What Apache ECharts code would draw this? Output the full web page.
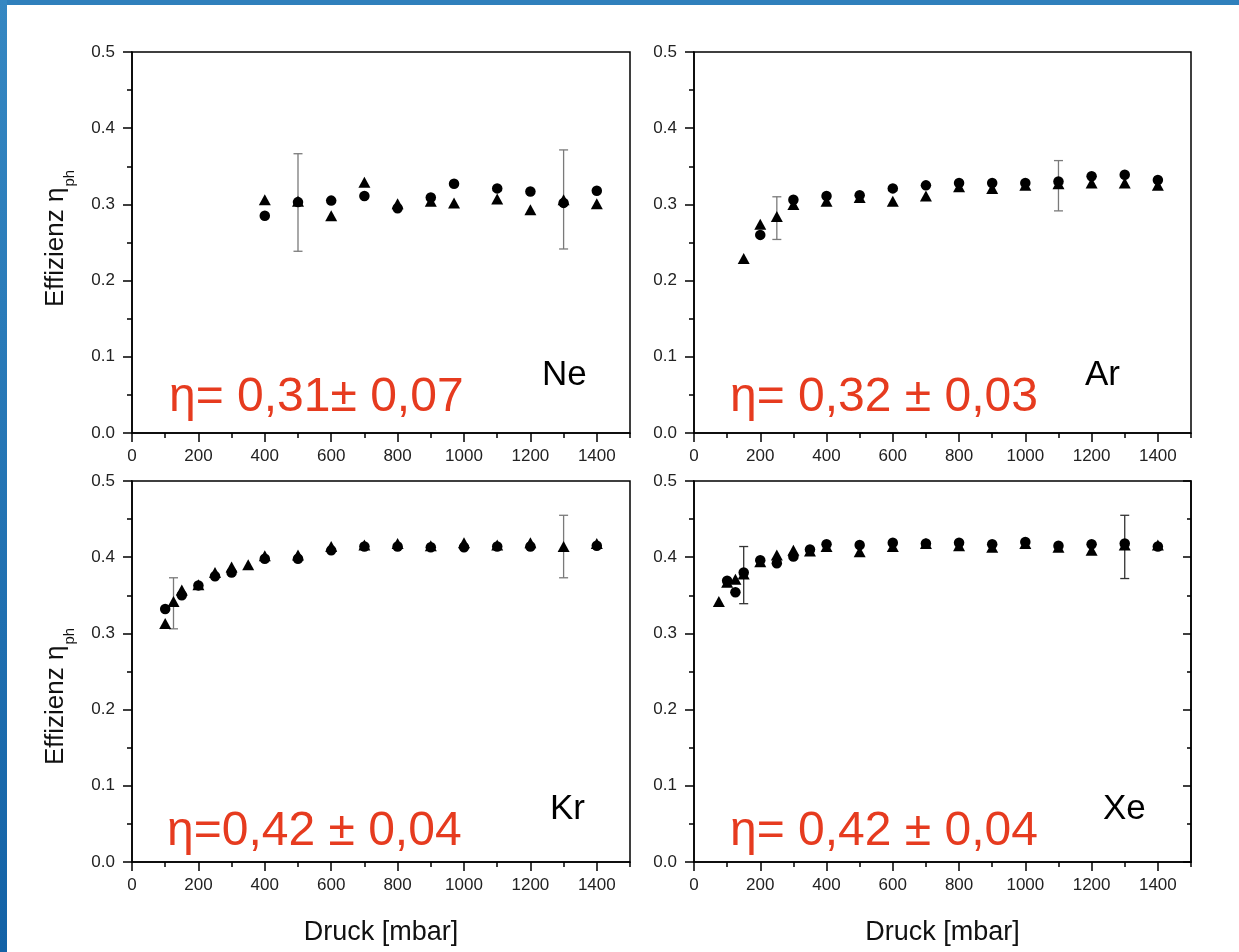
<!DOCTYPE html>
<html><head><meta charset="utf-8">
<script src="https://cdn.jsdelivr.net/npm/echarts@6/dist/echarts.min.js"></script>
<style>html,body{margin:0;padding:0;background:#fff}#c{width:1239px;height:952px}</style>
</head><body><div id="c"></div>
<script>
// ---- tick labels ----
const xTicksMajor = [0, 200, 400, 600, 800, 1000, 1200, 1400];
const xTicksMinor = [100, 300, 500, 700, 900, 1100, 1300, 1500];
const yTicks = [0.0, 0.1, 0.2, 0.3, 0.4, 0.5];

// ---- Ne ----
const neX      = [400, 500, 600, 700, 800, 900, 970, 1100, 1200, 1300, 1400];
const neCircle = [0.285, 0.303, 0.305, 0.311, 0.295, 0.309, 0.327, 0.321, 0.317, 0.302, 0.318];
const neTri    = [0.306, 0.304, 0.285, 0.329, 0.301, 0.304, 0.302, 0.307, 0.293, 0.306, 0.301];
const neErrX = [500, 1300];
const neErrY = [0.3025, 0.3065];
const neErrD = [0.064, 0.065];

// ---- Ar ----
const arCircleX = [200, 300, 400, 500, 600, 700, 800, 900, 1000, 1100, 1200, 1300, 1400];
const arCircle  = [0.260, 0.306, 0.311, 0.312, 0.321, 0.325, 0.328, 0.328, 0.328, 0.330, 0.337, 0.339, 0.332];
const arTriX = [150, 200, 250, 300, 400, 500, 600, 700, 800, 900, 1000, 1100, 1200, 1300, 1400];
const arTri  = [0.229, 0.274, 0.284, 0.300, 0.304, 0.309, 0.304, 0.311, 0.323, 0.321, 0.325, 0.327, 0.328, 0.328, 0.325];
const arErrX = [250, 1100];
const arErrY = [0.282, 0.3245];
const arErrD = [0.028, 0.033];

// ---- Kr ----
const krCircleX = [100, 150, 200, 250, 300, 400, 500, 600, 700, 800, 900, 1000, 1100, 1200, 1400];
const krCircle  = [0.332, 0.350, 0.363, 0.375, 0.380, 0.398, 0.398, 0.409, 0.414, 0.414, 0.413, 0.413, 0.414, 0.414, 0.415];
const krTriX = [100, 125, 150, 200, 250, 300, 350, 400, 500, 600, 700, 800, 900, 1000, 1100, 1200, 1300, 1400];
const krTri  = [0.313, 0.342, 0.357, 0.364, 0.380, 0.387, 0.390, 0.402, 0.403, 0.414, 0.416, 0.418, 0.415, 0.419, 0.416, 0.419, 0.414, 0.418];
const krErrX = [125, 1300];
const krErrY = [0.3395, 0.414];
const krErrD = [0.0335, 0.041];

// ---- Xe ----
const xeCircleX = [100, 125, 150, 200, 250, 300, 350, 400, 500, 600, 700, 800, 900, 1000, 1100, 1200, 1300, 1400];
const xeCircle  = [0.369, 0.354, 0.380, 0.396, 0.392, 0.401, 0.410, 0.417, 0.416, 0.419, 0.418, 0.419, 0.417, 0.420, 0.415, 0.417, 0.418, 0.414];
const xeTriX = [75, 100, 125, 150, 200, 250, 300, 350, 400, 500, 600, 700, 800, 900, 1000, 1100, 1200, 1300, 1400];
const xeTri  = [0.342, 0.367, 0.371, 0.378, 0.394, 0.403, 0.409, 0.408, 0.414, 0.407, 0.414, 0.418, 0.415, 0.413, 0.418, 0.413, 0.409, 0.416, 0.416];
const xeErrX = [150, 1300];
const xeErrY = [0.3765, 0.4135];
const xeErrD = [0.0375, 0.0415];

// ---- texts ----
const elements = ['Ne', 'Ar', 'Kr', 'Xe'];
const etaTexts = ['η= 0,31± 0,07', 'η= 0,32 ± 0,03', 'η=0,42 ± 0,04', 'η= 0,42 ± 0,04'];
const xName = 'Druck [mbar]';
const yNameMain = 'Effizienz η';
const yNameSub = 'ph';

const FONT = '"Liberation Sans", Arial, sans-serif';
const zip = (xs, ys) => xs.map((x, i) => [x, ys[i]]);
const zip3 = (xs, ys, ds) => xs.map((x, i) => [x, ys[i], ds[i]]);

const panels = [
  { circle: zip(neX, neCircle), tri: zip(neX, neTri), err: zip3(neErrX, neErrY, neErrD), errColor: '#7a7a7a', rightTicks: false },
  { circle: zip(arCircleX, arCircle), tri: zip(arTriX, arTri), err: zip3(arErrX, arErrY, arErrD), errColor: '#7a7a7a', rightTicks: false },
  { circle: zip(krCircleX, krCircle), tri: zip(krTriX, krTri), err: zip3(krErrX, krErrY, krErrD), errColor: '#7a7a7a', rightTicks: false },
  { circle: zip(xeCircleX, xeCircle), tri: zip(xeTriX, xeTri), err: zip3(xeErrX, xeErrY, xeErrD), errColor: '#333333', rightTicks: true }
];

const gridBoxes = [
  { left: 132, top: 52, width: 498, height: 381 },
  { left: 694, top: 52, width: 497, height: 381 },
  { left: 132, top: 481, width: 498, height: 381 },
  { left: 694, top: 481, width: 497, height: 381 }
];

const black = { color: '#000', width: 1.5 };
const grids = [], xAxes = [], yAxes = [], series = [];

gridBoxes.forEach((g, i) => {
  const p = panels[i];
  grids.push(Object.assign({ show: true, borderColor: '#000', borderWidth: 1.5, backgroundColor: 'transparent', containLabel: false }, g));
  xAxes.push({
    gridIndex: i, type: 'value', min: 0, max: 1500, interval: 200, position: 'bottom',
    axisLine: { show: true, onZero: false, lineStyle: black },
    axisTick: { show: true, length: 9, lineStyle: black, customValues: xTicksMajor },
    axisLabel: { customValues: xTicksMajor, formatter: v => String(v), color: '#222', fontSize: 17, fontFamily: FONT, margin: 15 },
    splitLine: { show: false },
    name: i >= 2 ? xName : '', nameLocation: 'middle', nameGap: 57,
    nameTextStyle: { fontSize: 27, fontFamily: FONT, color: '#111' }
  });
  xAxes.push({
    gridIndex: i, type: 'value', min: 0, max: 1500, interval: 100, position: 'bottom',
    axisLine: { show: false },
    axisTick: { show: true, length: 5, lineStyle: black, customValues: xTicksMinor },
    axisLabel: { show: false },
    splitLine: { show: false }
  });
  const yIdx = yAxes.length;
  yAxes.push({
    gridIndex: i, type: 'value', min: yTicks[0], max: yTicks[yTicks.length - 1], interval: 0.1, position: 'left',
    axisLine: { show: true, onZero: false, lineStyle: black },
    axisTick: { show: true, length: 9, lineStyle: black },
    minorTick: { show: true, splitNumber: 2, length: 5, lineStyle: black },
    axisLabel: { formatter: v => v.toFixed(1), color: '#222', fontSize: 17, fontFamily: FONT, margin: 17 },
    splitLine: { show: false }, minorSplitLine: { show: false }
  });
  if (p.rightTicks) {
    yAxes.push({
      gridIndex: i, type: 'value', min: yTicks[0], max: yTicks[yTicks.length - 1], interval: 0.1, position: 'right',
      show: true,
      axisLine: { show: true, onZero: false, lineStyle: black },
      axisTick: { show: true, inside: true, length: 8, lineStyle: black },
      minorTick: { show: true, splitNumber: 2, length: 4, lineStyle: black },
      axisLabel: { show: false },
      splitLine: { show: false }, minorSplitLine: { show: false }
    });
    // an empty series bound to the right axis so it is laid out
    series.push({ type: 'scatter', xAxisIndex: 2 * i, yAxisIndex: yIdx + 1, data: [], silent: true });
  }

  const errColor = p.errColor;
  series.push({
    type: 'custom', xAxisIndex: 2 * i, yAxisIndex: yIdx, z: 1,
    data: p.err, encode: { x: 0, y: 1 },
    renderItem: (params, api) => {
      const x = api.value(0), y = api.value(1), d = api.value(2);
      const t = api.coord([x, y + d]), b = api.coord([x, y - d]);
      const w = 4.5, st = { stroke: errColor, lineWidth: 1.3 };
      return { type: 'group', children: [
        { type: 'line', shape: { x1: t[0], y1: t[1], x2: b[0], y2: b[1] }, style: st },
        { type: 'line', shape: { x1: t[0] - w, y1: t[1], x2: t[0] + w, y2: t[1] }, style: st },
        { type: 'line', shape: { x1: b[0] - w, y1: b[1], x2: b[0] + w, y2: b[1] }, style: st }
      ] };
    }
  });
  series.push({
    type: 'scatter', xAxisIndex: 2 * i, yAxisIndex: yIdx, z: 3,
    symbol: 'circle', symbolSize: 10.5, itemStyle: { color: '#000', opacity: 1 },
    data: p.circle, silent: true
  });
  series.push({
    type: 'scatter', xAxisIndex: 2 * i, yAxisIndex: yIdx, z: 4,
    symbol: 'triangle', symbolSize: [12, 11], itemStyle: { color: '#000', opacity: 1 },
    data: p.tri, silent: true
  });
});

// measure text widths for the y-axis title
const ctx = document.createElement('canvas').getContext('2d');
ctx.font = '26px ' + FONT;
const mainW = ctx.measureText(yNameMain).width;

function yTitle(bottomY) {
  return [
    { type: 'text', x: 56, y: bottomY, rotation: Math.PI / 2,
      style: { text: yNameMain, font: '26px ' + FONT, fill: '#111', align: 'left', verticalAlign: 'middle' } },
    { type: 'text', x: 70, y: bottomY - mainW - 1, rotation: Math.PI / 2,
      style: { text: yNameSub, font: '15px ' + FONT, fill: '#111', align: 'left', verticalAlign: 'middle' } }
  ];
}

const etaPos = [[169, 398], [730, 398], [167, 832], [730, 832]];
const elPos = [[542, 375], [1085, 375], [550, 809], [1103, 809]];

const graphic = [
  { type: 'rect', shape: { x: 0, y: 0, width: 1239, height: 5 }, style: { fill: '#2f80bc' }, z: 10 },
  { type: 'rect', shape: { x: 0, y: 0, width: 7, height: 952 },
    style: { fill: new echarts.graphic.LinearGradient(0, 0, 0, 1, [{ offset: 0, color: '#3587c2' }, { offset: 1, color: '#1362a6' }]) }, z: 10 }
];
etaTexts.forEach((t, i) => graphic.push({ type: 'text', x: etaPos[i][0], y: etaPos[i][1],
  style: { text: t, font: '48px ' + FONT, fill: '#e63b1f', align: 'left', verticalAlign: 'middle' } }));
elements.forEach((t, i) => graphic.push({ type: 'text', x: elPos[i][0], y: elPos[i][1],
  style: { text: t, font: '35px ' + FONT, fill: '#000', align: 'left', verticalAlign: 'middle' } }));
yTitle(307).concat(yTitle(765)).forEach(g => graphic.push(g));

const chart = echarts.init(document.getElementById('c'), null, { renderer: 'canvas' });
chart.setOption({
  animation: false,
  backgroundColor: '#fff',
  grid: grids, xAxis: xAxes, yAxis: yAxes, series: series, graphic: graphic
});
</script></body></html>
